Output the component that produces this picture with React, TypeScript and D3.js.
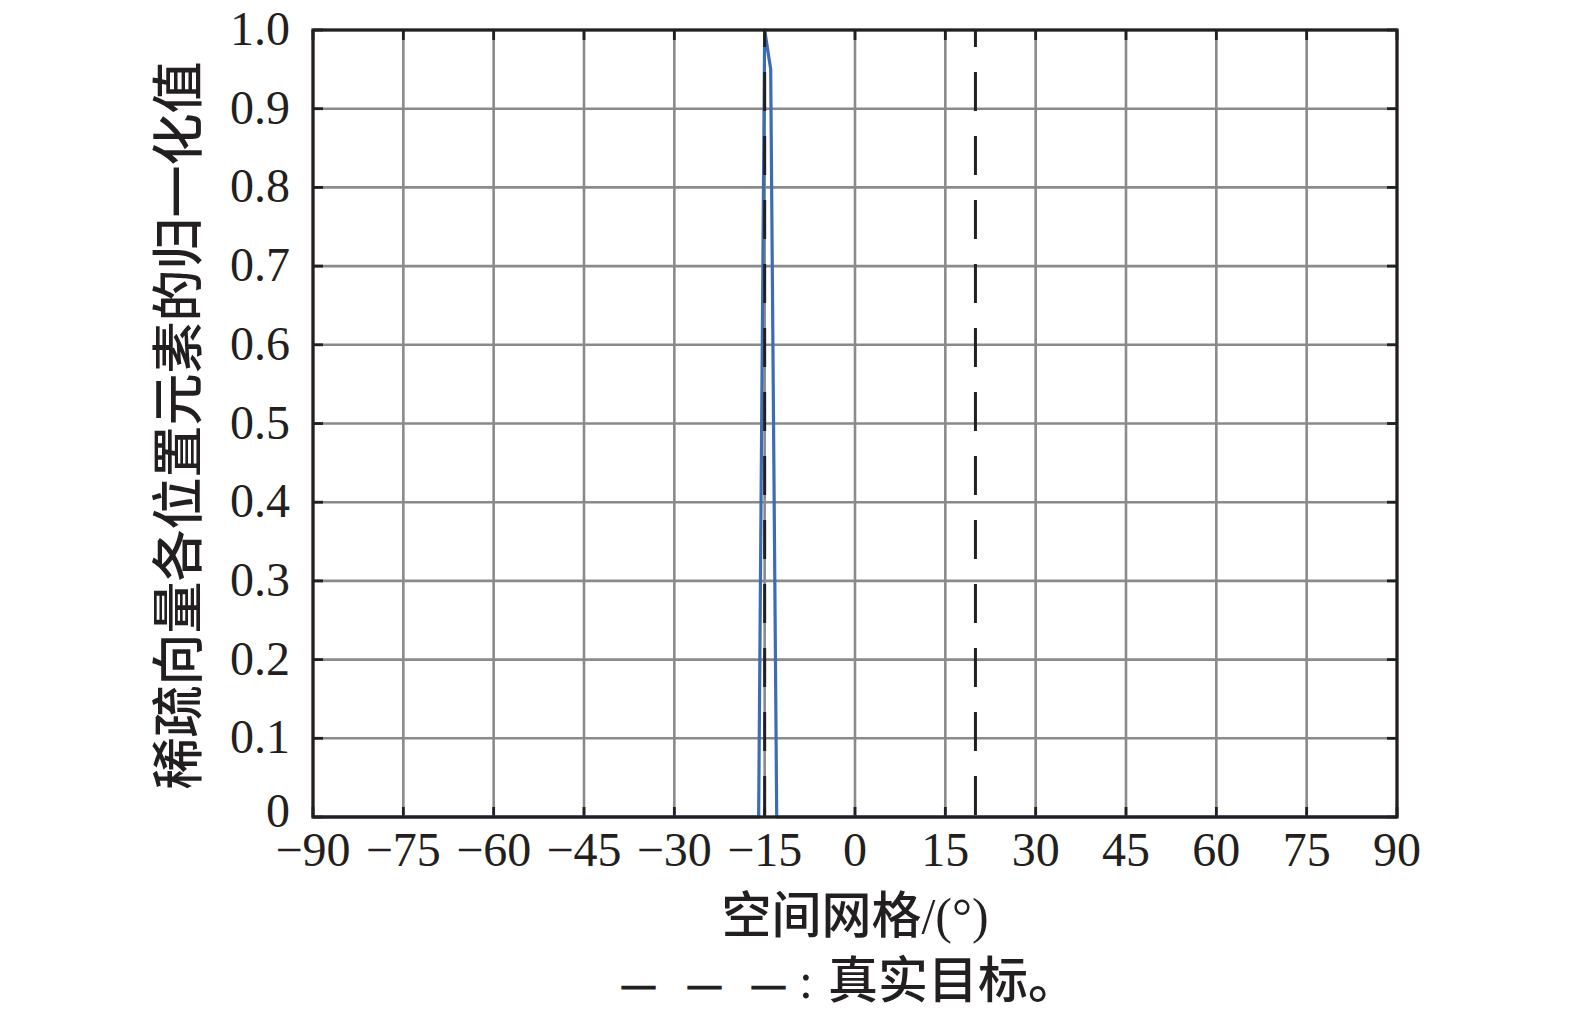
import React from "react";
import * as d3 from "d3";

const xTicks = [-90, -75, -60, -45, -30, -15, 0, 15, 30, 45, 60, 75, 90];
const yTicks = [0, 0.1, 0.2, 0.3, 0.4, 0.5, 0.6, 0.7, 0.8, 0.9, 1.0];
const gridAngles = [-90, -16, -15, -14, -13, 90];
const normValues = [0, 0, 1, 0.95, 0, 0];
const trueTargets = [-15, 20];

const W = 1575, H = 1014;
const M = { left: 313, right: 1397, top: 30, bottom: 817 };
const SERIF = "'Liberation Serif', 'Times New Roman', serif";
const CJK = "'Liberation Serif', 'Noto Sans CJK SC', serif";

export default function App() {
  const x = d3.scaleLinear().domain([-90, 90]).range([M.left, M.right]);
  const y = d3.scaleLinear().domain([0, 1]).range([M.bottom, M.top]);
  const pts: [number, number][] = gridAngles.map((a, i) => [a, normValues[i]]);
  const line = d3.line<[number, number]>().x(d => x(d[0])).y(d => y(d[1]));
  const fmtY = (v: number) => (v === 0 ? "0" : v.toFixed(1));
  const fmtX = (v: number) => (v < 0 ? "\u2212" + Math.abs(v) : String(v));
  const tickLen = 10;
  return (
    <svg width={W} height={H} style={{ position: "absolute", left: 0, top: 0, background: "#fff" }}>
      {/* grid */}
      {xTicks.map(t => (
        <line key={"gx" + t} x1={x(t)} x2={x(t)} y1={M.top} y2={M.bottom} stroke="#8a8a8a" strokeWidth={2.6} />
      ))}
      {yTicks.map(t => (
        <line key={"gy" + t} x1={M.left} x2={M.right} y1={y(t)} y2={y(t)} stroke="#8a8a8a" strokeWidth={2.6} />
      ))}
      {/* ticks */}
      {xTicks.map(t => (
        <g key={"tx" + t}>
          <line x1={x(t)} x2={x(t)} y1={M.bottom} y2={M.bottom - tickLen} stroke="#231f20" strokeWidth={2.8} />
          <line x1={x(t)} x2={x(t)} y1={M.top} y2={M.top + tickLen} stroke="#231f20" strokeWidth={2.8} />
        </g>
      ))}
      {yTicks.map(t => (
        <g key={"ty" + t}>
          <line x1={M.left} x2={M.left + tickLen} y1={y(t)} y2={y(t)} stroke="#231f20" strokeWidth={2.8} />
          <line x1={M.right} x2={M.right - tickLen} y1={y(t)} y2={y(t)} stroke="#231f20" strokeWidth={2.8} />
        </g>
      ))}
      {/* data */}
      <path d={line(pts) || ""} fill="none" stroke="#3b6db5" strokeWidth={3.2} strokeLinejoin="round" />
      {trueTargets.map(t => (
        <line key={"tt" + t} x1={x(t)} x2={x(t)} y1={M.top} y2={M.bottom} stroke="#231f20" strokeWidth={3}
          strokeDasharray="39,25" strokeDashoffset={22} />
      ))}
      {/* frame */}
      <rect x={M.left} y={M.top} width={M.right - M.left} height={M.bottom - M.top} fill="none" stroke="#231f20" strokeWidth={3.2} />
      {/* tick labels */}
      {yTicks.map(t => (
        <text key={"ly" + t} x={290} y={y(t) + (t === 0 ? 10 : 15)} textAnchor="end" fontFamily={SERIF} fontSize={48} fill="#231f20">
          {fmtY(t)}
        </text>
      ))}
      {xTicks.map(t => (
        <text key={"lx" + t} x={x(t)} y={866} textAnchor="middle" fontFamily={SERIF} fontSize={48} fill="#231f20">
          {fmtX(t)}
        </text>
      ))}
      {/* axis titles */}
      <text x={855} y={933} textAnchor="middle" fontFamily={CJK} fontSize={50} fill="#231f20" fontWeight={500}>
        空间网格/(°)
      </text>
      <text transform={`translate(197,${(M.top + M.bottom) / 2 + 2}) rotate(-90)`} textAnchor="middle"
        fontFamily={CJK} fontSize={52} fill="#231f20" fontWeight={500}>
        稀疏向量各位置元素的归一化值
      </text>
      {/* caption */}
      <text y={998} fontFamily={CJK} fontSize={50} fill="#231f20" fontWeight={500}>
        <tspan x={622} dy={2} fontFamily={SERIF} stroke="#231f20" strokeWidth={1.2} textLength={33} lengthAdjust="spacingAndGlyphs">—</tspan>
        <tspan x={688} fontFamily={SERIF} stroke="#231f20" strokeWidth={1.2} textLength={33} lengthAdjust="spacingAndGlyphs">—</tspan>
        <tspan x={752} fontFamily={SERIF} stroke="#231f20" strokeWidth={1.2} textLength={33} lengthAdjust="spacingAndGlyphs">—</tspan>
        <tspan x={799} dy={-2} fontFamily={SERIF}>:</tspan>
        <tspan x={828}>真实目标。</tspan>
      </text>
    </svg>
  );
}
